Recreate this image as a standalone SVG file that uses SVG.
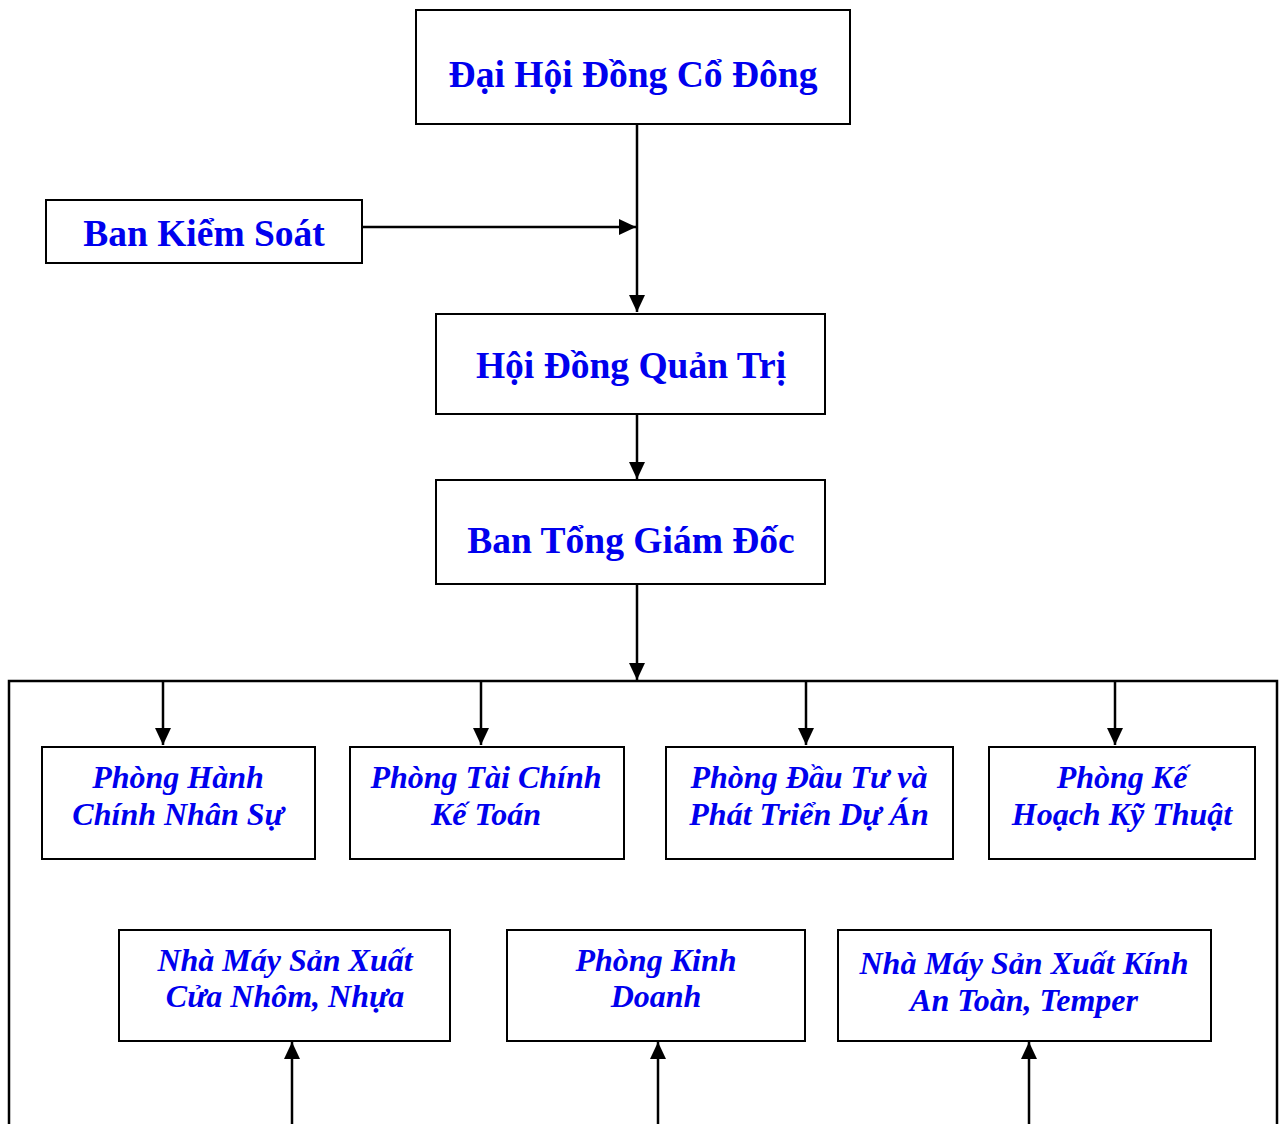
<svg xmlns="http://www.w3.org/2000/svg" width="1283" height="1124" viewBox="0 0 1283 1124">
<style>
.box{fill:#fff;stroke:#000;stroke-width:2}
.t{font-family:"Liberation Serif","Times New Roman",serif;font-weight:bold;fill:#0000EE;text-anchor:middle}
.h{font-size:37.5px}
.i{font-size:32px;font-style:italic}
.c{stroke:#000;stroke-width:2.5;fill:none}
</style>
<defs>
<marker id="ah" markerWidth="17" markerHeight="16" viewBox="0 0 17 16" refX="17" refY="8" orient="auto" markerUnits="userSpaceOnUse">
<path d="M0,0 L17,8 L0,16 Z" fill="#000"/>
</marker>
</defs>
<g id="connectors">
<line class="c" x1="637" y1="124" x2="637" y2="312" marker-end="url(#ah)"/>
<line class="c" x1="362" y1="227" x2="636" y2="227" marker-end="url(#ah)"/>
<line class="c" x1="637" y1="414" x2="637" y2="479" marker-end="url(#ah)"/>
<line class="c" x1="637" y1="584" x2="637" y2="680" marker-end="url(#ah)"/>
<path class="c" d="M9,1124 L9,681 L1277,681 L1277,1124" stroke-width="2"/>
<line class="c" x1="163" y1="681" x2="163" y2="745" marker-end="url(#ah)"/>
<line class="c" x1="481" y1="681" x2="481" y2="745" marker-end="url(#ah)"/>
<line class="c" x1="806" y1="681" x2="806" y2="745" marker-end="url(#ah)"/>
<line class="c" x1="1115" y1="681" x2="1115" y2="745" marker-end="url(#ah)"/>
<line class="c" x1="292" y1="1124" x2="292" y2="1042" marker-end="url(#ah)"/>
<line class="c" x1="658" y1="1124" x2="658" y2="1042" marker-end="url(#ah)"/>
<line class="c" x1="1029" y1="1124" x2="1029" y2="1042" marker-end="url(#ah)"/>
</g>
<g id="n1"><rect class="box" x="416" y="10" width="434" height="114"/><text class="t h" x="633" y="87">Đại Hội Đồng Cổ Đông</text></g>
<g id="n2"><rect class="box" x="46" y="200" width="316" height="63"/><text class="t h" x="204" y="246">Ban Kiểm Soát</text></g>
<g id="n3"><rect class="box" x="436" y="314" width="389" height="100"/><text class="t h" x="631" y="378">Hội Đồng Quản Trị</text></g>
<g id="n4"><rect class="box" x="436" y="480" width="389" height="104"/><text class="t h" x="631" y="553">Ban Tổng Giám Đốc</text></g>
<g id="n5"><rect class="box" x="42" y="747" width="273" height="112"/><text class="t i" x="178" y="788">Phòng Hành</text><text class="t i" x="178" y="825">Chính Nhân Sự</text></g>
<g id="n6"><rect class="box" x="350" y="747" width="274" height="112"/><text class="t i" x="486" y="788">Phòng Tài Chính</text><text class="t i" x="486" y="825">Kế Toán</text></g>
<g id="n7"><rect class="box" x="666" y="747" width="287" height="112"/><text class="t i" x="809" y="788">Phòng Đầu Tư và</text><text class="t i" x="809" y="825">Phát Triển Dự Án</text></g>
<g id="n8"><rect class="box" x="989" y="747" width="266" height="112"/><text class="t i" x="1122" y="788">Phòng Kế</text><text class="t i" x="1122" y="825">Hoạch Kỹ Thuật</text></g>
<g id="n9"><rect class="box" x="119" y="930" width="331" height="111"/><text class="t i" x="285" y="971">Nhà Máy Sản Xuất</text><text class="t i" x="285" y="1007">Cửa Nhôm, Nhựa</text></g>
<g id="n10"><rect class="box" x="507" y="930" width="298" height="111"/><text class="t i" x="656" y="971">Phòng Kinh</text><text class="t i" x="656" y="1007">Doanh</text></g>
<g id="n11"><rect class="box" x="838" y="930" width="373" height="111"/><text class="t i" x="1024" y="974">Nhà Máy Sản Xuất Kính</text><text class="t i" x="1024" y="1011">An Toàn, Temper</text></g>
</svg>
